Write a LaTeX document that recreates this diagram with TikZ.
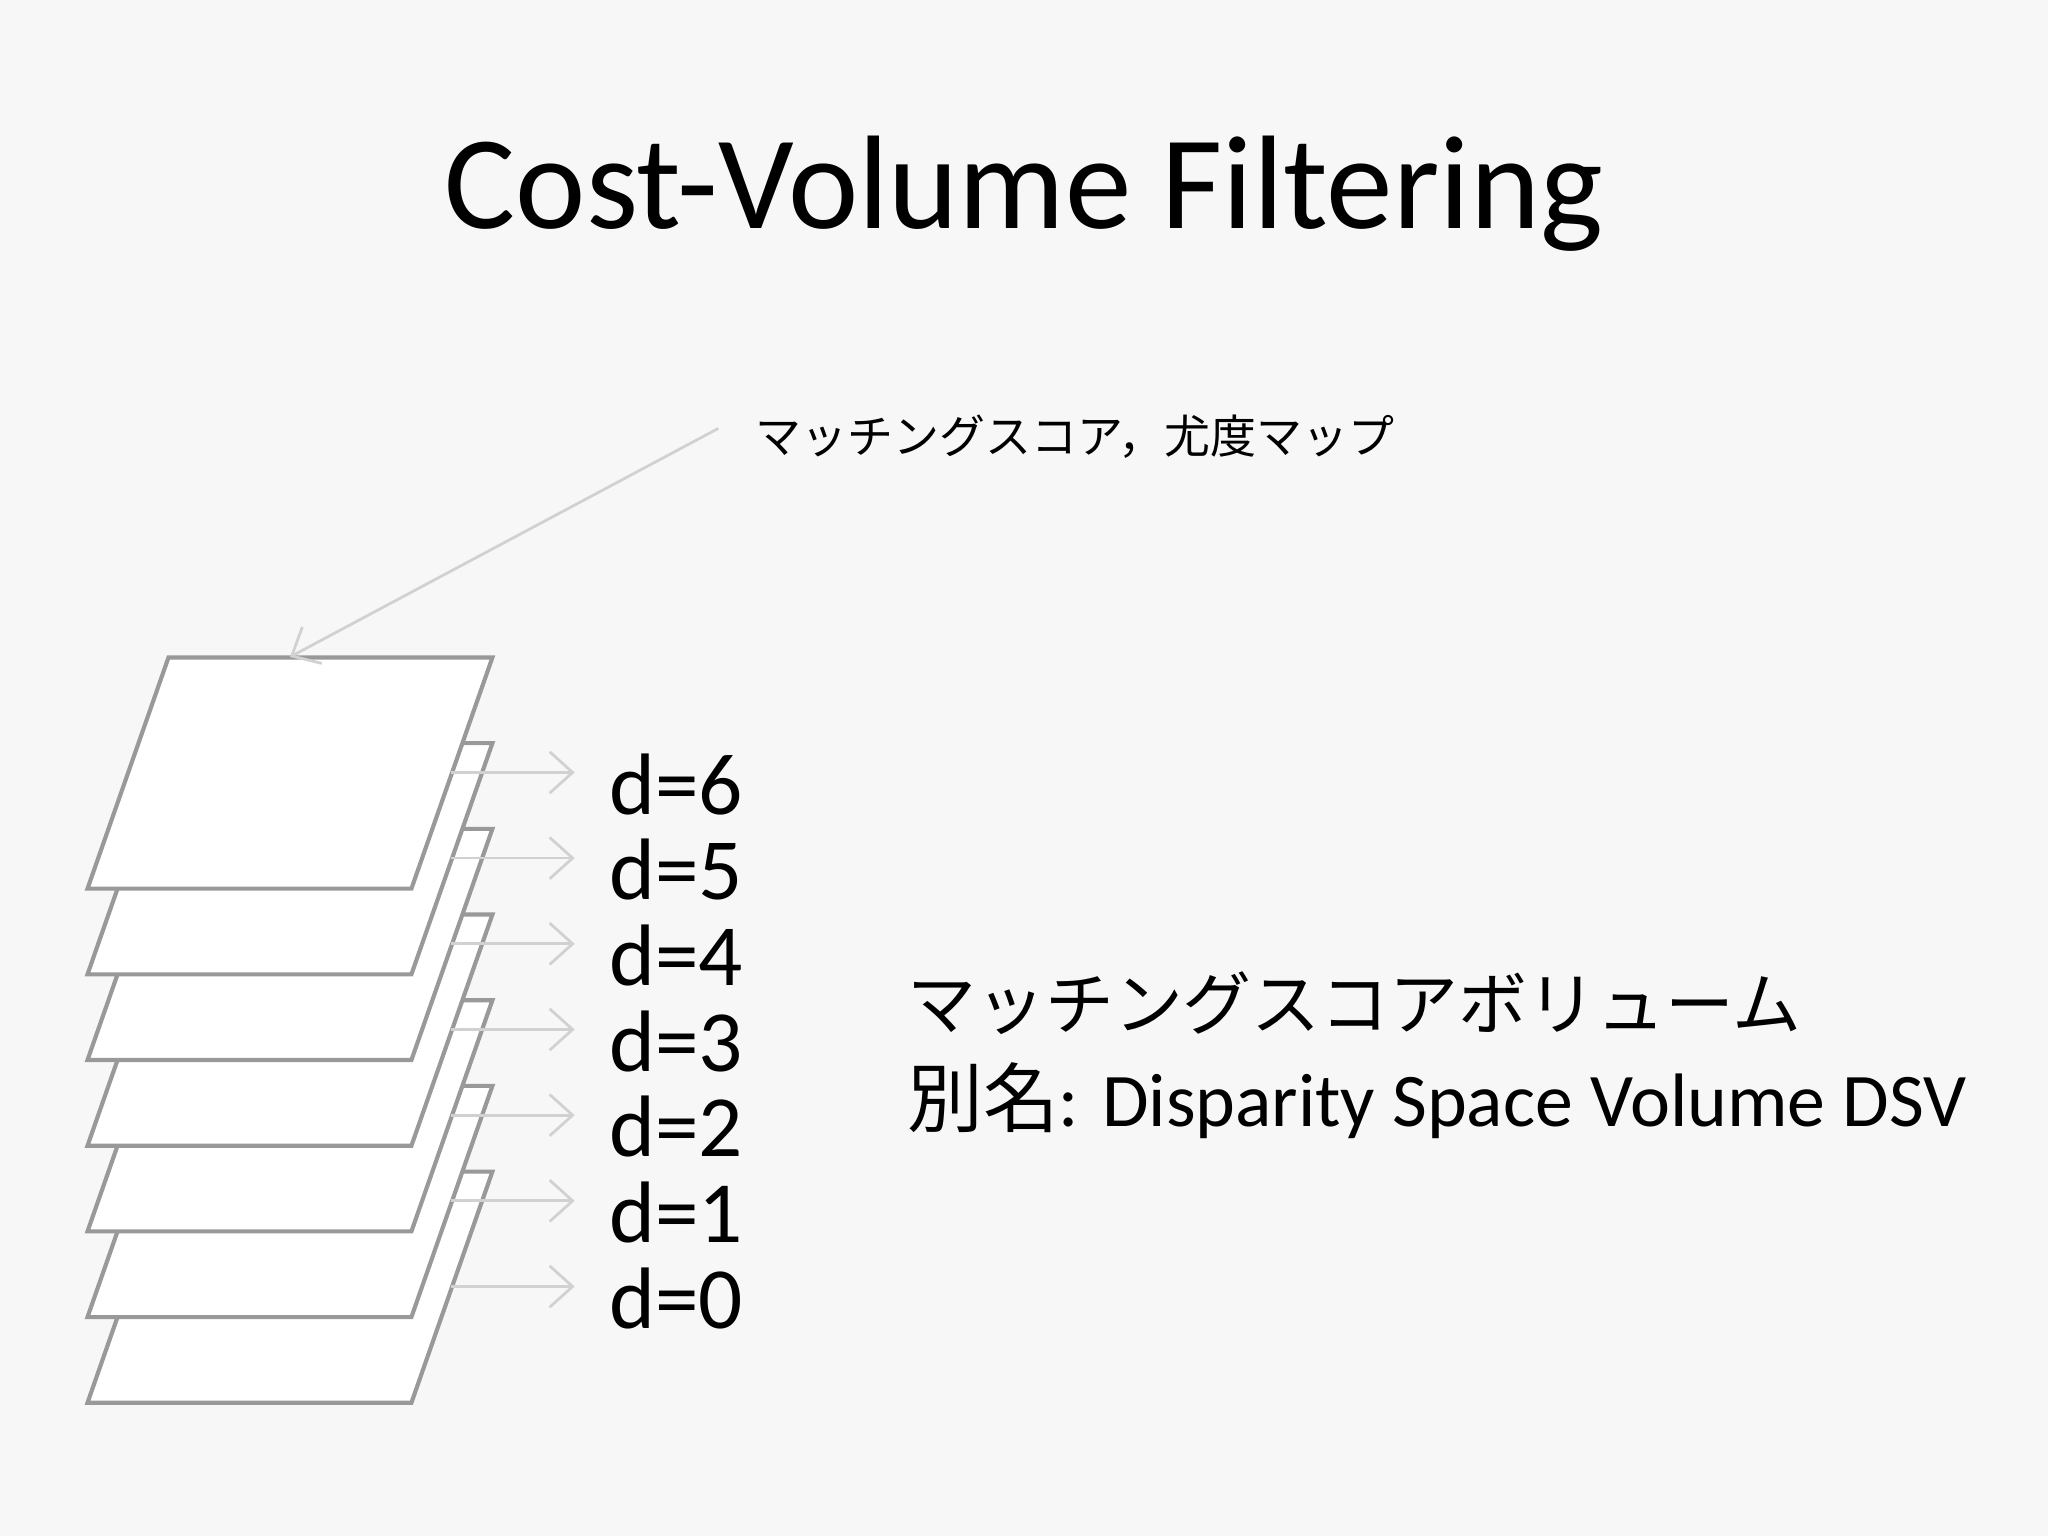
\documentclass[tikz,border=0pt]{standalone}
\usepackage{fontspec}
\setmainfont{Carlito}
\newfontfamily\cjk{Noto Sans CJK JP}
\usetikzlibrary{arrows.meta}
\begin{document}
\begin{tikzpicture}[x=0.01cm,y=-0.01cm,
  plane/.style={draw=black!40,fill=white,line width=0.9pt,line join=miter},
  tag/.style={draw=black!18,line width=0.6pt,-{Straight Barb[length=5pt,width=9pt]}},
  dlab/.style={anchor=west,font=\fontsize{19}{19}\selectfont,inner sep=0pt}]
\fill[black!3] (0,0) rectangle (1568,1176);
\useasboundingbox (0,0) rectangle (1568,1176);
\node[font=\fontsize{29}{29}\selectfont] (title) at (784,148) {Cost-Volume Filtering};
\foreach \i in {0,...,6}{
  \pgfmathsetmacro\t{897-65.6*\i}
  \draw[plane] (129,\t) -- (377,\t) -- (315,\t+177) -- (67,\t+177) -- cycle;
  \coordinate (s\i) at (345,\t+88);
  \coordinate (e\i) at (440,\t+88);
  \draw[tag] (s\i) -- (e\i);
  \node[dlab] (d\i) at (466,\t+97) {d=\i};
}
\coordinate (top) at (222,503);
\node[anchor=west,font=\cjk\fontsize{10}{10}\selectfont,inner sep=0pt] (lab) at (578,334) {マッチングスコア，尤度マップ};
\coordinate (labs) at (550,328);
\draw[tag] (labs) -- (top);
\node[anchor=west,font=\cjk\fontsize{15}{15}\selectfont,inner sep=0pt] (vol) at (694,768) {マッチングスコアボリューム};
\node[anchor=west,font=\fontsize{16.5}{16.5}\selectfont,inner sep=0pt] (alias) at (694,843) {{\cjk 別名}: Disparity Space Volume DSV};
\end{tikzpicture}
\end{document}
